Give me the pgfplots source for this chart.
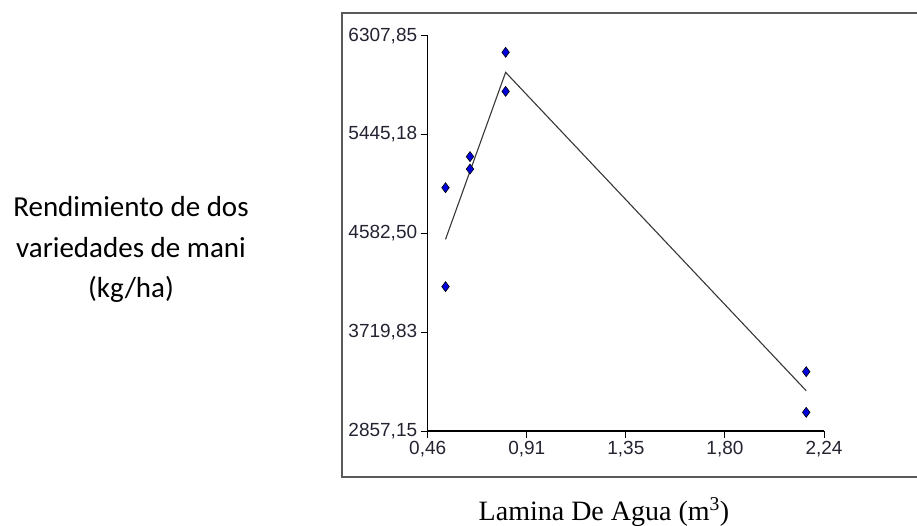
\documentclass[border=0pt]{standalone}
\usepackage{fontspec}
\setmainfont{Liberation Serif}
\newfontfamily\arialf{Liberation Sans}
\newfontfamily\calib{Carlito}
\usepackage{pgfplots}
\pgfplotsset{compat=1.18}
\definecolor{tickc}{RGB}{35,35,50}
\definecolor{mblue}{RGB}{0,0,220}
\definecolor{boxc}{RGB}{90,90,90}
\definecolor{fitc}{RGB}{55,55,55}
\begin{document}
\begin{tikzpicture}
\path[use as bounding box] (0,0) rectangle (917pt,525pt);
\draw[boxc, line width=1.3pt] (917pt,512pt) -- (342pt,512pt) -- (342pt,48pt) -- (917pt,48pt);
\begin{axis}[at={(427.7pt,94pt)}, anchor=south west, scale only axis,
  width=396.3pt, height=395.3pt,
  xmin=0.46, xmax=2.24, ymin=2857.15, ymax=6307.85,
  axis lines*=left, axis line style={line width=1.2pt, black},
  xtick={0.46,0.905,1.35,1.795,2.24},
  xticklabels={{0,46},{0,91},{1,35},{1,80},{2,24}},
  ytick={2857.15,3719.825,4582.5,5445.175,6307.85},
  yticklabels={{2857,15},{3719,83},{4582,50},{5445,18},{6307,85}},
  tick style={black, line width=1pt}, major tick length=7pt, tick align=outside,
  ticklabel style={font=\arialf\fontsize{19}{21}\selectfont, text=tickc},
  clip=false]
\addplot[fitc, line width=1.1pt, no marks] coordinates {(0.54,4530) (0.81,5988) (2.16,3209)};
\addplot[only marks, mark=diamond*, mark size=5pt, mark options={fill=mblue, draw=black, line width=0.6pt}]
  coordinates {(0.54,4981) (0.54,4117) (0.65,5252) (0.65,5144) (0.81,6163) (0.81,5822) (2.16,3375) (2.16,3020)};
\end{axis}
\node[anchor=base, font=\calib\fontsize{29}{31}\selectfont] at (131pt,308pt) {Rendimiento de dos};
\node[anchor=base, font=\calib\fontsize{29}{31}\selectfont] at (131pt,267pt) {variedades de mani};
\node[anchor=base, font=\calib\fontsize{29}{31}\selectfont] at (131pt,227pt) {(kg/ha)};
\node[anchor=base, font=\fontsize{28}{30}\selectfont] at (604pt,5pt) {Lamina De Agua (m\textsuperscript{3})};
\end{tikzpicture}
\end{document}
